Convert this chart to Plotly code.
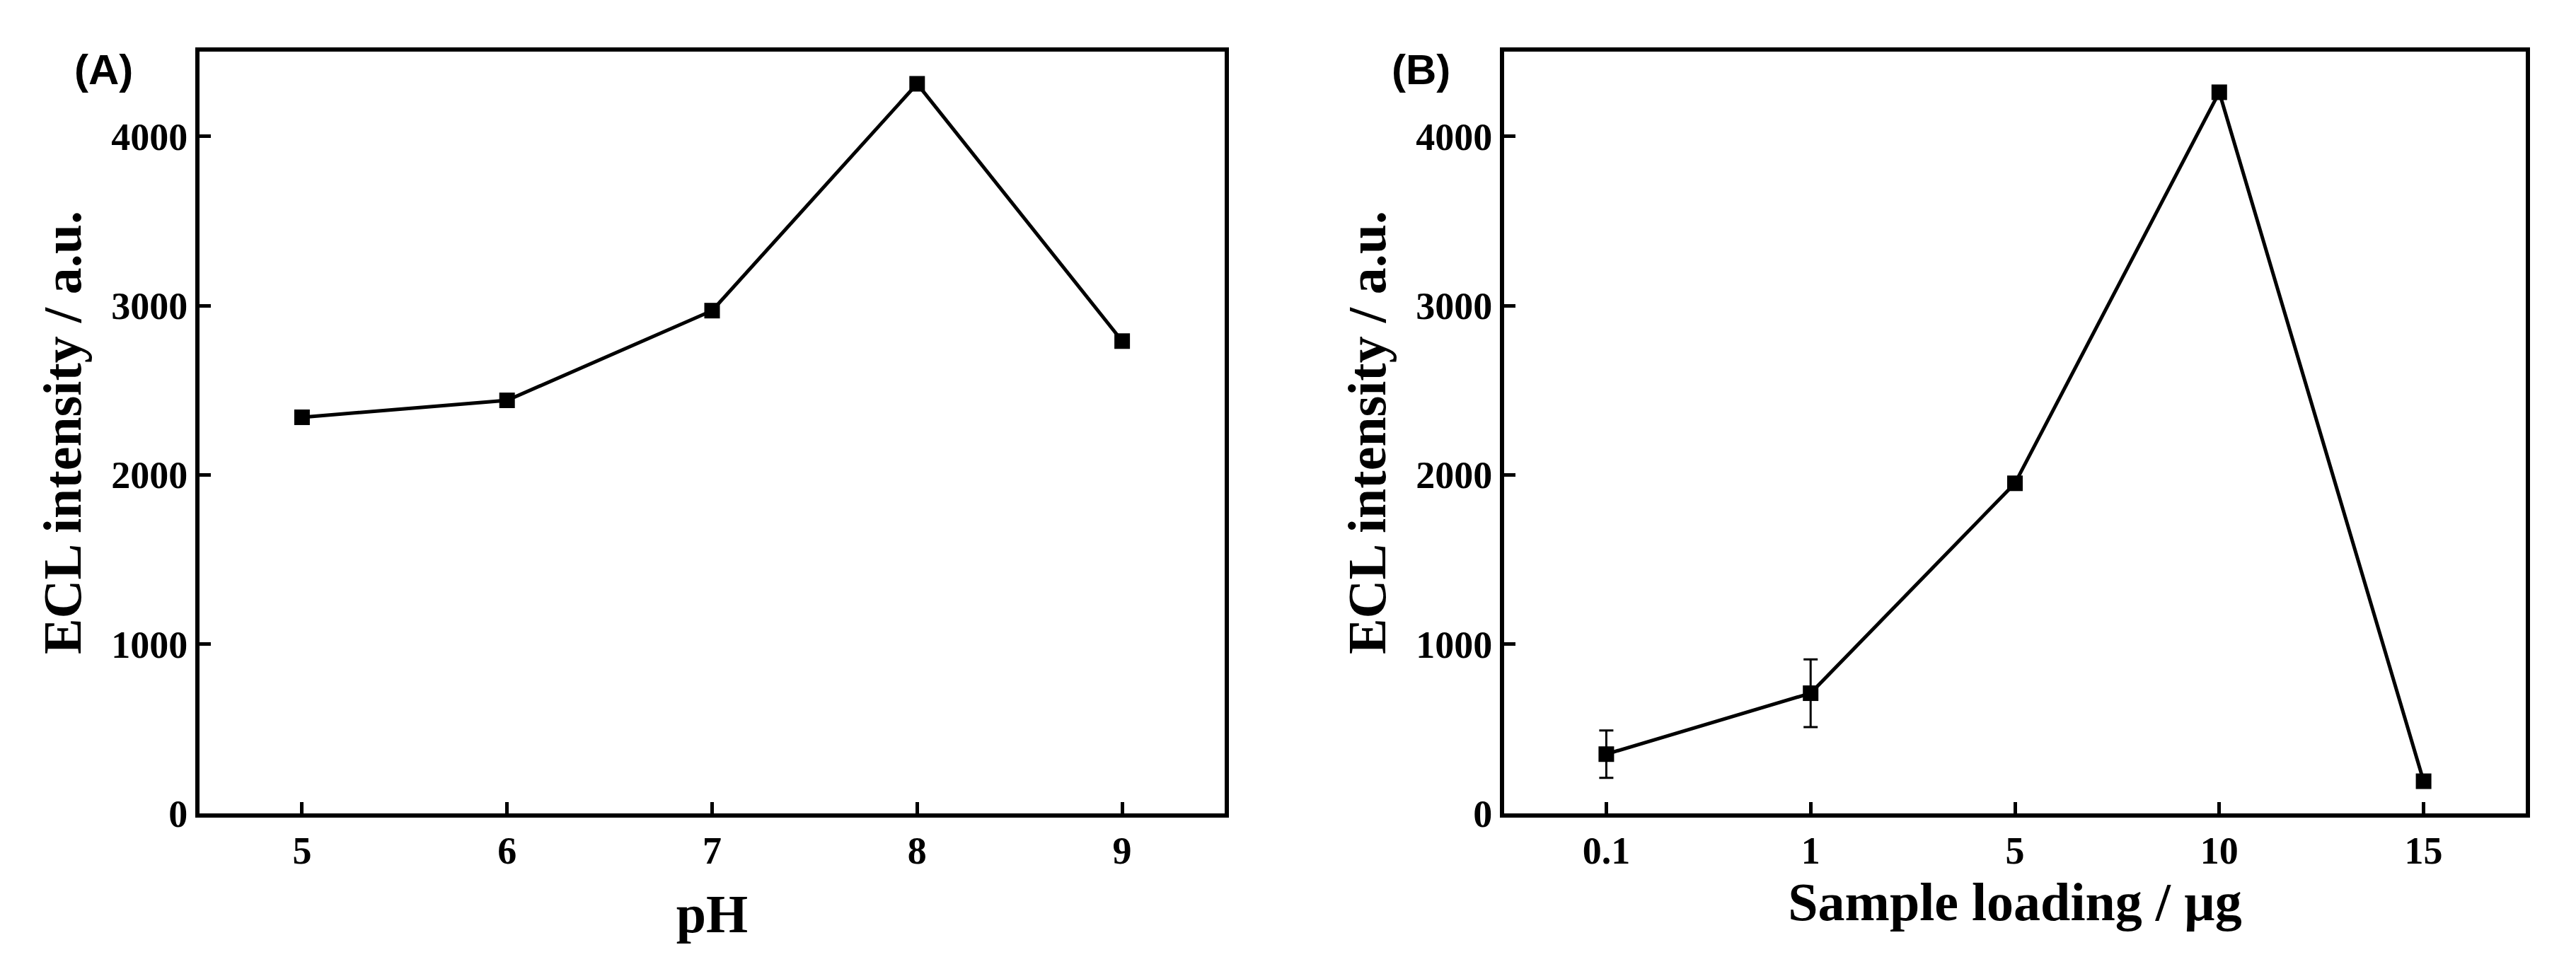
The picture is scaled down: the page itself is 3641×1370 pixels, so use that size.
import plotly.graph_objects as go
from plotly.subplots import make_subplots

ph = [5, 6, 7, 8, 9]
ph_ecl = [2340, 2440, 2970, 4310, 2790]
load_labels = ["0.1", "1", "5", "10", "15"]
load_ecl = [350, 710, 1950, 4260, 190]
load_err = [140, 200, 0, 0, 0]

W, H = 3641, 1370
fig = make_subplots(rows=1, cols=2)
mk = dict(symbol="square", size=22, color="black")
fig.add_trace(go.Scatter(x=ph, y=ph_ecl, mode="lines+markers",
                         line=dict(color="black", width=5), marker=mk), 1, 1)
fig.add_trace(go.Scatter(x=load_labels, y=load_ecl, mode="lines+markers",
                         line=dict(color="black", width=5), marker=mk,
                         error_y=dict(type="data", array=load_err, color="black",
                                      thickness=3, width=10)), 1, 2)

font = dict(family="Liberation Serif", size=54, color="black", weight="bold")
tfont = dict(family="Liberation Serif", size=76, color="black", weight="bold")
ax = dict(showline=True, mirror=True, linecolor="black", linewidth=6,
          ticks="inside", ticklen=16, tickwidth=5, tickcolor="black",
          showgrid=False, zeroline=False, tickfont=font)
fig.update_xaxes(**ax)
fig.update_yaxes(**ax, range=[0, 4500], tickvals=[0, 1000, 2000, 3000, 4000])
fig.update_xaxes(range=[4.5, 9.5], tickvals=ph, row=1, col=1,
                 title=dict(text="pH", font=tfont, standoff=35))
fig.update_xaxes(range=[-0.5, 4.5], type="category", row=1, col=2,
                 title=dict(text="Sample loading / µg", font=tfont, standoff=15))
for c in (1, 2):
    fig.update_yaxes(title=dict(text="ECL intensity / a.u.", font=tfont, standoff=20), row=1, col=c)

L, R, T, B = 274, 3562, 65, 1142
fig.update_layout(
    width=W, height=H, showlegend=False, plot_bgcolor="white", paper_bgcolor="white",
    margin=dict(l=L, r=W - R, t=T, b=H - B),
)
fig.layout.xaxis.domain = [0, (1723 - L) / (R - L)]
fig.layout.xaxis2.domain = [(2118 - L) / (R - L), 1]
for txt, px in (("(A)", 95), ("(B)", 2000)):
    fig.add_annotation(text="<b>" + txt + "</b>", x=(px - L) / (R - L),
                       y=1 - (55 - T) / (B - T), xref="paper", yref="paper",
                       showarrow=False, font=dict(family="Liberation Sans", size=60, color="black"))
fig.write_html("out.html")
